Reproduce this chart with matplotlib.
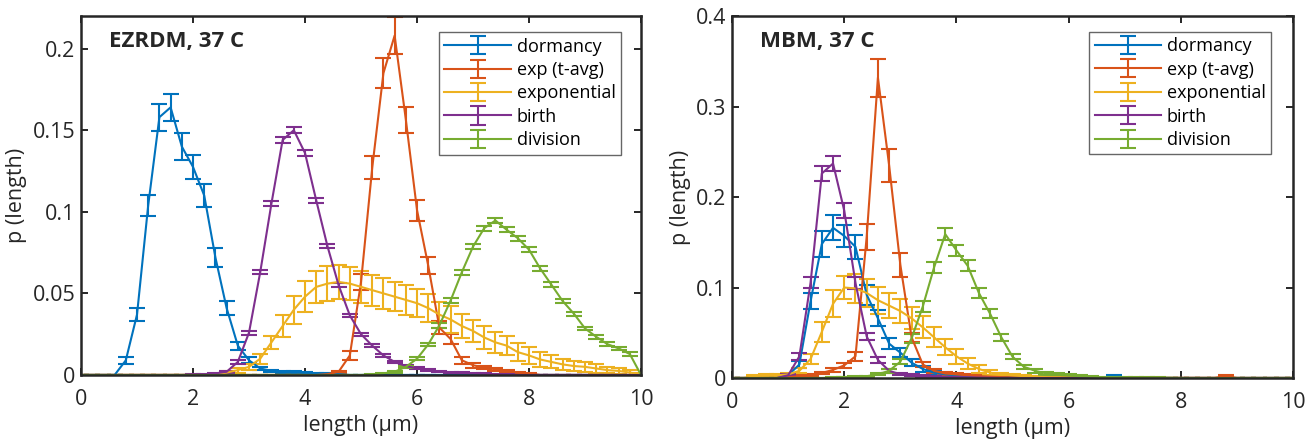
import numpy as np
import matplotlib
matplotlib.use('Agg')
import matplotlib.pyplot as plt
from matplotlib.ticker import FormatStrFormatter

plt.rcParams['font.family'] = ['Open Sans', 'DejaVu Sans']

# bin centres (um), same for both panels
x_bins = np.round(np.arange(0, 10.001, 0.2), 1)

labels = ['dormancy', 'exp (t-avg)', 'exponential', 'birth', 'division']
colors = ['#0072BD', '#D95319', '#EDB120', '#7E2F8E', '#77AC30']

# ---- EZRDM, 37 C  (each series: first bin, values, errors; zero elsewhere)
ez_dorm_x0 = 0.6
ez_dorm = [0.0, 0.009, 0.037, 0.104, 0.158, 0.164, 0.140, 0.1275, 0.110, 0.072, 0.041,
           0.018, 0.009, 0.004, 0.0025, 0.002, 0.002, 0.0015, 0.001, 0.0008, 0.0005]
ez_dorm_err = [0.0, 0.002, 0.0038, 0.0066, 0.0083, 0.0084, 0.008, 0.0076, 0.0071, 0.0057, 0.0044,
               0.0025, 0.0018, 0.001, 0.0008, 0.0007, 0.0007, 0.0006, 0.0005, 0.0004, 0.0003]

ez_exp_x0 = 4.2
ez_exp = [0.0, 0.0005, 0.002, 0.012, 0.057, 0.127, 0.185, 0.208, 0.1565, 0.101,
          0.067, 0.029, 0.022, 0.009, 0.006, 0.0045, 0.0035, 0.0025, 0.0015, 0.001]
ez_exp_err = [0.0, 0.0003, 0.0006, 0.003, 0.005, 0.007, 0.009, 0.0115, 0.008, 0.0064,
              0.0053, 0.004, 0.003, 0.002, 0.0015, 0.001, 0.001, 0.0008, 0.0006, 0.0005]

ez_expo_x0 = 2.4
ez_expo = [0.0005, 0.0015, 0.003, 0.005, 0.010, 0.020, 0.030, 0.040, 0.048, 0.054,
           0.056, 0.057, 0.056, 0.054, 0.052, 0.050, 0.048, 0.046, 0.044, 0.041,
           0.037, 0.034, 0.030, 0.027, 0.023, 0.020, 0.018, 0.014, 0.012, 0.0095,
           0.008, 0.0065, 0.0055, 0.005, 0.004, 0.003, 0.0025, 0.0015, 0.0005]
ez_expo_err = [0.0003, 0.0008, 0.0015, 0.002, 0.003, 0.004, 0.0065, 0.0085, 0.0095, 0.010,
               0.0105, 0.0105, 0.010, 0.010, 0.0095, 0.0095, 0.009, 0.009, 0.0085, 0.0085,
               0.008, 0.008, 0.0075, 0.007, 0.007, 0.0065, 0.006, 0.0055, 0.005, 0.0045,
               0.004, 0.0035, 0.003, 0.003, 0.0025, 0.002, 0.0018, 0.0015, 0.0008]

ez_birth_x0 = 2.0
ez_birth = [0.0003, 0.0005, 0.001, 0.002, 0.008, 0.026, 0.063, 0.105, 0.144, 0.150,
            0.136, 0.107, 0.079, 0.055, 0.0365, 0.025, 0.018, 0.012, 0.008, 0.0055,
            0.004, 0.003, 0.0022, 0.0017, 0.0013, 0.001, 0.0007, 0.0005, 0.0003]
ez_birth_err = [0.0001, 0.0002, 0.0003, 0.0005, 0.001, 0.0012, 0.0012, 0.0015, 0.002, 0.0018,
                0.0017, 0.0015, 0.0014, 0.0012, 0.0011, 0.001, 0.001, 0.0009, 0.0008, 0.0007,
                0.0006, 0.0005, 0.0005, 0.0004, 0.0004, 0.0003, 0.0003, 0.0002, 0.0002]

ez_div_x0 = 5.2
ez_div = [0.0003, 0.001, 0.002, 0.005, 0.010, 0.0187, 0.0305, 0.0457, 0.063, 0.0787,
          0.090, 0.0947, 0.089, 0.0838, 0.0768, 0.0652, 0.0553, 0.0453, 0.0376, 0.0285,
          0.0234, 0.0189, 0.0163, 0.0128, 0.0]
ez_div_err = [0.0001, 0.0003, 0.0005, 0.0008, 0.001, 0.0012, 0.0015, 0.0015, 0.0015, 0.0015,
              0.0015, 0.0015, 0.0015, 0.0015, 0.0015, 0.0014, 0.0014, 0.0013, 0.0013, 0.0012,
              0.0012, 0.0011, 0.001, 0.001, 0.0]

# ---- MBM, 37 C
mbm_dorm_x0 = 0.8
mbm_dorm = [0.0, 0.003, 0.015, 0.085, 0.148, 0.166, 0.157, 0.145, 0.092, 0.066,
            0.038, 0.028, 0.017, 0.010, 0.006, 0.004, 0.003, 0.002, 0.0015, 0.001,
            0.001, 0.0005, 0.0003, 0.0003, 0.0002, 0.0002, 0.0001, 0.0001, 0.0001, 0.0001,
            0.002, 0.0]
mbm_dorm_err = [0.0, 0.001, 0.004, 0.009, 0.014, 0.014, 0.012, 0.013, 0.011, 0.009,
                0.006, 0.005, 0.004, 0.003, 0.002, 0.0015, 0.001, 0.001, 0.0008, 0.0006,
                0.0005, 0.0003, 0.0002, 0.0002, 0.0001, 0.0001, 0.0001, 0.0001, 0.0001, 0.0001,
                0.001, 0.0]

mbm_exp_x0 = 1.0
mbm_exp = [0.001, 0.002, 0.003, 0.0055, 0.009, 0.014, 0.024, 0.156, 0.332, 0.235,
           0.125, 0.045, 0.015, 0.008, 0.005, 0.004, 0.003, 0.002, 0.0015, 0.001,
           0.0008, 0.0006, 0.0005, 0.0004, 0.0003, 0.0003, 0.0002, 0.0002, 0.0001, 0.0001,
           0.0001, 0.0001, 0.0001, 0.0001, 0.0001, 0.0001, 0.0001, 0.0001, 0.0001, 0.002, 0.0]
mbm_exp_err = [0.0005, 0.0008, 0.001, 0.0015, 0.002, 0.003, 0.005, 0.0144, 0.021, 0.018,
               0.013, 0.005, 0.003, 0.002, 0.0015, 0.0012, 0.001, 0.0008, 0.0006, 0.0005,
               0.0004, 0.0003, 0.0003, 0.0002, 0.0002, 0.0002, 0.0001, 0.0001, 0.0001, 0.0001,
               0.0001, 0.0001, 0.0001, 0.0001, 0.0001, 0.0001, 0.0001, 0.0001, 0.0001, 0.001, 0.0]

mbm_expo_x0 = 0.2
mbm_expo = [0.0, 0.002, 0.003, 0.003, 0.004, 0.008, 0.021, 0.051, 0.082, 0.100,
            0.099, 0.094, 0.086, 0.080, 0.074, 0.066, 0.056, 0.045, 0.034, 0.024,
            0.016, 0.010, 0.006, 0.004, 0.003, 0.002, 0.0015, 0.001, 0.0008, 0.0005]
mbm_expo_err = [0.0, 0.001, 0.001, 0.001, 0.0015, 0.003, 0.006, 0.011, 0.015, 0.013,
                0.016, 0.015, 0.015, 0.014, 0.013, 0.012, 0.012, 0.011, 0.009, 0.008,
                0.006, 0.004, 0.003, 0.002, 0.0015, 0.001, 0.001, 0.0008, 0.0006, 0.0004]

mbm_birth_x0 = 0.8
mbm_birth = [0.0, 0.003, 0.024, 0.1055, 0.226, 0.237, 0.185, 0.105, 0.046, 0.020,
             0.008, 0.004, 0.003, 0.002, 0.0015, 0.001, 0.001, 0.0008, 0.0005, 0.0003]
mbm_birth_err = [0.0, 0.001, 0.004, 0.0065, 0.008, 0.008, 0.008, 0.007, 0.004, 0.003,
                 0.002, 0.001, 0.001, 0.0008, 0.0006, 0.0005, 0.0004, 0.0003, 0.0002, 0.0002]

mbm_div_x0 = 1.8
mbm_div = [0.0005, 0.001, 0.0015, 0.002, 0.004, 0.008, 0.018, 0.044, 0.079, 0.122,
           0.159, 0.141, 0.124, 0.094, 0.071, 0.045, 0.0235, 0.0125, 0.008, 0.005,
           0.004, 0.003, 0.002, 0.0015, 0.001, 0.001, 0.0008, 0.0006, 0.0005, 0.0004, 0.0003]
mbm_div_err = [0.0002, 0.0003, 0.0005, 0.0007, 0.001, 0.002, 0.003, 0.005, 0.006, 0.006,
               0.007, 0.006, 0.006, 0.006, 0.005, 0.004, 0.003, 0.002, 0.002, 0.0015,
               0.0012, 0.001, 0.0008, 0.0006, 0.0005, 0.0005, 0.0004, 0.0003, 0.0003, 0.0002, 0.0002]


def pad(x0, vals):
    # put the listed bins in place, zero everywhere else
    full = np.zeros(len(x_bins))
    i0 = int(round(x0 / 0.2))
    full[i0:i0 + len(vals)] = vals
    return full


def draw_panel(ax, series, title, ymax, yticks, legend_anchor):
    for (x0, vals, errs), lab, col in zip(series, labels, colors):
        ax.errorbar(x_bins, pad(x0, vals), yerr=pad(x0, errs), color=col, lw=1.5,
                    elinewidth=1.5, capsize=6, capthick=1.5, label=lab)
    ax.set_xlim(0, 10)
    ax.set_ylim(0, ymax)
    ax.set_xticks([0, 2, 4, 6, 8, 10])
    ax.set_yticks(yticks)
    ax.yaxis.set_major_formatter(FormatStrFormatter('%g'))
    ax.tick_params(direction='in', length=5, width=1.4, labelsize=15.5, colors='#262626',
                   top=True, right=True)
    ax.tick_params(axis='x', pad=10)
    ax.tick_params(axis='y', pad=4)
    for sp in ax.spines.values():
        sp.set_linewidth(1.8)
        sp.set_color('#262626')
    ax.set_xlabel('length (μm)', fontsize=15.5, color='#262626', labelpad=4)
    ax.set_ylabel('p (length)', fontsize=15.5, color='#262626', labelpad=4)
    ax.text(0.05, 0.93, title, transform=ax.transAxes, fontsize=16, fontweight='bold',
            color='#262626', va='center', ha='left')
    leg = ax.legend(loc='upper right', bbox_to_anchor=legend_anchor, borderaxespad=0,
                    fontsize=13, fancybox=False, handlelength=3.7, handletextpad=0.3,
                    labelspacing=0.3, borderpad=0.3)
    leg.get_frame().set_edgecolor('#404040')
    leg.get_frame().set_linewidth(1.0)


fig = plt.figure(figsize=(13.15, 4.44), dpi=100)
ax1 = fig.add_axes([0.0616, 0.1554, 0.4259, 0.8086])
ax2 = fig.add_axes([0.5567, 0.1486, 0.4266, 0.8153])

ez_series = [(ez_dorm_x0, ez_dorm, ez_dorm_err), (ez_exp_x0, ez_exp, ez_exp_err),
             (ez_expo_x0, ez_expo, ez_expo_err), (ez_birth_x0, ez_birth, ez_birth_err),
             (ez_div_x0, ez_div, ez_div_err)]
mbm_series = [(mbm_dorm_x0, mbm_dorm, mbm_dorm_err), (mbm_exp_x0, mbm_exp, mbm_exp_err),
              (mbm_expo_x0, mbm_expo, mbm_expo_err), (mbm_birth_x0, mbm_birth, mbm_birth_err),
              (mbm_div_x0, mbm_div, mbm_div_err)]

draw_panel(ax1, ez_series, 'EZRDM, 37 C', 0.22, [0, 0.05, 0.1, 0.15, 0.2], (0.964, 0.955))
draw_panel(ax2, mbm_series, 'MBM, 37 C', 0.4, [0, 0.1, 0.2, 0.3, 0.4], (0.961, 0.956))

fig.savefig('out.png', dpi=100)
plt.close()
